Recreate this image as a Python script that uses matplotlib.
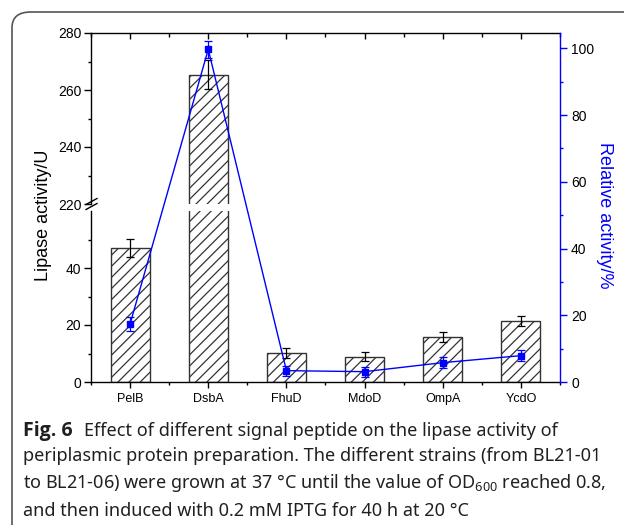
import matplotlib

matplotlib.use("Agg")
import matplotlib.pyplot as plt
from matplotlib.patches import FancyBboxPatch
from matplotlib.ticker import FixedLocator, MultipleLocator

strains = ["PelB", "DsbA", "FhuD", "MdoD", "OmpA", "YcdO"]
lipase = [47.0, 265.4, 10.1, 8.9, 15.8, 21.4]
lipase_err = [3.2, 5.0, 1.7, 1.5, 1.6, 1.9]
relative = [17.4, 99.7, 3.4, 3.1, 5.8, 7.9]
relative_err = [2.0, 2.5, 1.5, 1.5, 1.7, 1.7]

W, H = 624, 525
BLUE = "#0000ff"
TICK_FONT = ["Liberation Sans", "DejaVu Sans"]
CAP_FONT = ["Noto Sans", "DejaVu Sans"]
BOLD_FONT = ["Open Sans", "Lato", "DejaVu Sans"]
CAP_COLOR = "#231f20"

plt.rcParams["font.family"] = TICK_FONT
plt.rcParams["mathtext.fontset"] = "custom"
plt.rcParams["mathtext.rm"] = CAP_FONT[0]


def px_rect(x0, y0, x1, y1):
    # pixel box (top-left origin) -> figure fraction rect
    return [x0 / W, 1 - y1 / H, (x1 - x0) / W, (y1 - y0) / H]


fig = plt.figure(figsize=(W / 100, H / 100), dpi=100)

frame = FancyBboxPatch((12 / W, -20 / H), 660 / W, (H - 12 + 20) / H,
                       boxstyle="round,pad=0,rounding_size=0.03",
                       transform=fig.transFigure, fill=False,
                       edgecolor="#555555", linewidth=1.2, clip_on=False)
fig.patches.append(frame)

ax_low = fig.add_axes(px_rect(91, 211, 560, 382))
ax_up = fig.add_axes(px_rect(91, 33, 560, 204))
ax_r = fig.add_axes(px_rect(91, 33, 560, 382), facecolor="none")

plt.rcParams["hatch.linewidth"] = 0.9
x = list(range(len(strains)))
for ax in (ax_low, ax_up):
    ax.bar(x, lipase, width=0.5, color="white", edgecolor="#333333",
           hatch="///", linewidth=1.0, zorder=2)
    ax.errorbar(x, lipase, yerr=lipase_err, fmt="none", ecolor="black",
                elinewidth=0.9, capsize=3, capthick=0.9, zorder=3)
    ax.set_xlim(-0.5, 5.5)
    for s in ax.spines.values():
        s.set_linewidth(1.0)
    ax.spines["right"].set_visible(False)
    ax.tick_params(axis="y", which="major", length=5, width=1,
                   labelsize=10, pad=2)
    ax.tick_params(axis="y", which="minor", length=2.5, width=1)

ax_low.set_ylim(0, 60)
ax_low.yaxis.set_major_locator(FixedLocator([0, 20, 40]))
ax_low.yaxis.set_minor_locator(FixedLocator([10, 30, 50]))
ax_low.spines["top"].set_visible(False)
ax_low.xaxis.set_major_locator(FixedLocator(x))
ax_low.xaxis.set_minor_locator(FixedLocator([i - 0.5 for i in range(7)]))
ax_low.set_xticklabels(strains)
ax_low.tick_params(axis="x", which="major", length=4, width=1,
                   labelsize=9, pad=4)
ax_low.tick_params(axis="x", which="minor", length=2.5, width=1)

ax_up.set_ylim(220, 280)
ax_up.yaxis.set_major_locator(MultipleLocator(20))
ax_up.yaxis.set_minor_locator(MultipleLocator(10))
ax_up.spines["bottom"].set_visible(False)
ax_up.xaxis.tick_top()
ax_up.xaxis.set_major_locator(FixedLocator(x))
ax_up.xaxis.set_minor_locator(FixedLocator([i - 0.5 for i in range(7)]))
ax_up.tick_params(axis="x", which="both", direction="in", labeltop=False,
                  length=4, width=1)
ax_up.tick_params(axis="x", which="minor", length=3)

# axis break marks
for dy in (-2.5, 2.5):
    ax_up.plot([-5 / 469, 6 / 469], [(dy - 3) / 171, (dy + 3) / 171],
               transform=ax_up.transAxes, color="black", lw=1.0,
               clip_on=False, zorder=5)

fig.text(43 / W, 1 - 215 / H, "Lipase activity/U", rotation=90,
         ha="center", va="center", fontsize=13, family=TICK_FONT)

# right axis: relative activity
ax_r.set_xlim(-0.5, 5.5)
ax_r.set_ylim(0, 104.6)
for side in ("left", "top", "bottom"):
    ax_r.spines[side].set_visible(False)
ax_r.spines["right"].set_color(BLUE)
ax_r.spines["right"].set_linewidth(1.0)
ax_r.set_xticks([])
ax_r.yaxis.tick_right()
ax_r.yaxis.set_major_locator(MultipleLocator(20))
ax_r.yaxis.set_minor_locator(MultipleLocator(10))
ax_r.tick_params(axis="y", which="major", length=5, width=1, color=BLUE,
                 labelsize=10, labelcolor="black", pad=3)
ax_r.tick_params(axis="y", which="minor", length=2.5, width=1, color=BLUE)
ax_r.errorbar(x, relative, yerr=relative_err, color=BLUE, lw=1.0,
              marker="s", markersize=5, ecolor=BLUE, elinewidth=0.9,
              capsize=3, capthick=0.9, zorder=4)
fig.text(604 / W, 1 - 215 / H, "Relative activity/%", rotation=270,
         ha="center", va="center", fontsize=13, color=BLUE, family=TICK_FONT)

# caption
cap_size = 13
cap_x = 23
t0 = fig.text(cap_x / W, 1 - 436 / H, "Fig. 6", fontsize=14,
              fontweight="bold", color=CAP_COLOR, family=BOLD_FONT,
              va="baseline")
rest = fig.text(0, 0, "Effect of different signal peptide on the lipase activity of",
                fontsize=cap_size, color=CAP_COLOR, family=CAP_FONT,
                va="baseline")
lines = [
    "periplasmic protein preparation. The different strains (from BL21-01",
    "to BL21-06) were grown at 37 \u00b0C until the value of OD$_{600}$ reached 0.8,",
    "and then induced with 0.2 mM IPTG for 40 h at 20 \u00b0C",
]
for i, line in enumerate(lines):
    fig.text(cap_x / W, 1 - (461 + 27.5 * i) / H, line, fontsize=cap_size,
             color=CAP_COLOR, family=CAP_FONT, va="baseline")

# place the rest of line 1 right after the bold label
fig.canvas.draw()
bb = t0.get_window_extent()
rest.set_position(((bb.x1 + 11) / W, 1 - 436 / H))

fig.savefig("out.png", dpi=100)
